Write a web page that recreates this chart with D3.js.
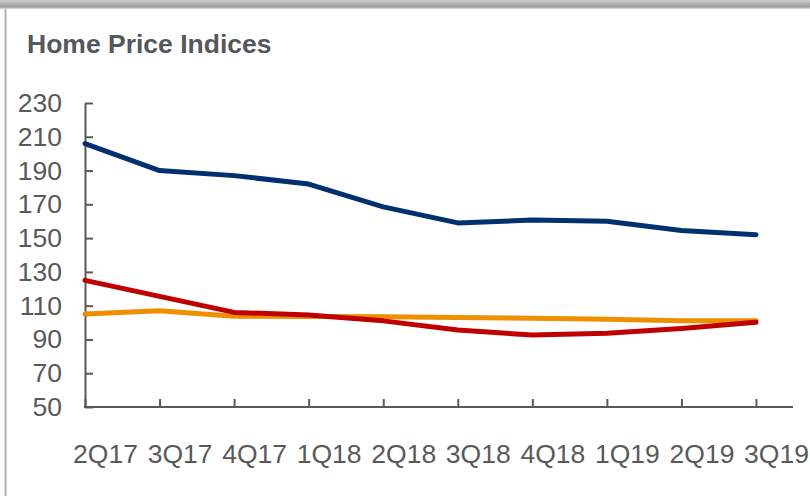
<!DOCTYPE html>
<html>
<head>
<meta charset="utf-8">
<script src="https://d3js.org/d3.v7.min.js"></script>
<style>
  body { margin: 0; background: #fff; }
  svg { display: block; font-family: "Liberation Sans", Arial, sans-serif; }
</style>
</head>
<body>
<svg id="vis"></svg>
<script>
  // data
  var quarters = ["2Q17", "3Q17", "4Q17", "1Q18", "2Q18", "3Q18", "4Q18", "1Q19", "2Q19", "3Q19"];
  var navyValues = [206, 190, 187, 182, 168.5, 159, 160.7, 160, 154.5, 152];
  var orangeValues = [105, 107, 103.7, 103.6, 103.5, 103, 102.5, 102, 101, 101];
  var redValues = [125, 115.5, 106, 104.5, 101, 95.6, 92.6, 93.6, 96.5, 100.2];
  var yTicks = [50, 70, 90, 110, 130, 150, 170, 190, 210, 230];

  var width = 810, height = 496;
  var textColor = "#595959";

  var svg = d3.select("#vis")
    .attr("width", width)
    .attr("height", height);

  // frame: grey shadow strip on top and border on the left
  var grad = svg.append("defs").append("linearGradient")
    .attr("id", "shade").attr("x1", 0).attr("y1", 0).attr("x2", 0).attr("y2", 1);
  grad.append("stop").attr("offset", "0%").attr("stop-color", "#cfcfcf");
  grad.append("stop").attr("offset", "75%").attr("stop-color", "#9a9a9a");
  grad.append("stop").attr("offset", "100%").attr("stop-color", "#e0e0e0");
  svg.append("rect").attr("x", 0).attr("y", 0).attr("width", width).attr("height", 9)
    .attr("fill", "url(#shade)");
  svg.append("line").attr("x1", 5.5).attr("x2", 5.5).attr("y1", 9).attr("y2", height)
    .attr("stroke", "#b0b0b0").attr("stroke-width", 2);

  // title
  svg.append("text")
    .attr("x", 27)
    .attr("y", 53)
    .attr("font-size", "26.5px")
    .attr("font-weight", "bold")
    .attr("fill", "#54575c")
    .text("Home Price Indices");

  // scales
  var x = d3.scalePoint()
    .domain(quarters)
    .range([85, 756]);

  var y = d3.scaleLinear()
    .domain([50, 230])
    .range([407, 103]);

  // y axis (ticks point inward)
  var yAxis = d3.axisLeft(y)
    .tickValues(yTicks)
    .tickSizeInner(-8)
    .tickSizeOuter(0)
    .tickPadding(23);
  var gy = svg.append("g")
    .attr("transform", "translate(85,0)")
    .call(yAxis);
  gy.select(".domain").attr("stroke", textColor).attr("stroke-width", 2);
  gy.selectAll(".tick line").attr("stroke", textColor).attr("stroke-width", 2);
  gy.selectAll(".tick text")
    .attr("font-size", "26.5px")
    .attr("fill", textColor)
    .attr("font-family", "Liberation Sans, Arial, sans-serif");

  // x axis
  var xAxis = d3.axisBottom(x)
    .tickSizeInner(-8)
    .tickSizeOuter(0)
    .tickPadding(0);
  var gx = svg.append("g")
    .attr("transform", "translate(0,407)")
    .call(xAxis);
  gx.select(".domain").remove();
  gx.selectAll(".tick line").attr("stroke", textColor).attr("stroke-width", 2);
  gx.selectAll(".tick text")
    .attr("font-size", "26.5px")
    .attr("fill", textColor)
    .attr("font-family", "Liberation Sans, Arial, sans-serif")
    .attr("dx", 20)
    .attr("y", 56)
    .attr("dy", 0);
  gx.append("line")
    .attr("x1", 84).attr("x2", 793)
    .attr("y1", 0).attr("y2", 0)
    .attr("stroke", textColor).attr("stroke-width", 2);

  // lines
  var line = d3.line()
    .x(function(d, i) { return x(quarters[i]); })
    .y(function(d) { return y(d); });

  var series = [
    { values: navyValues, color: "#00306f" },
    { values: orangeValues, color: "#ef8f00" },
    { values: redValues, color: "#c00000" }
  ];

  svg.selectAll(".series")
    .data(series)
    .enter().append("path")
    .attr("class", "series")
    .attr("d", function(d) { return line(d.values); })
    .attr("fill", "none")
    .attr("stroke", function(d) { return d.color; })
    .attr("stroke-width", 5)
    .attr("stroke-linejoin", "round")
    .attr("stroke-linecap", "round");
</script>
</body>
</html>
